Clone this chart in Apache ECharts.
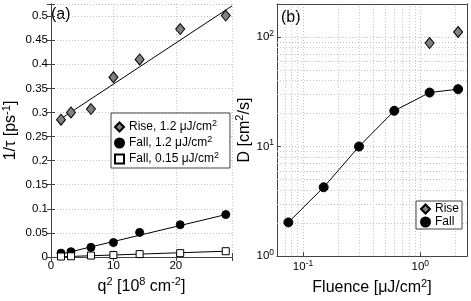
<!DOCTYPE html>
<html><head><meta charset="utf-8">
<script src="https://cdn.jsdelivr.net/npm/echarts@6/dist/echarts.min.js"></script>
<style>html,body{margin:0;padding:0;background:#fff}#c{width:471px;height:301px}</style>
</head><body><div id="c"></div>
<script>
// ---- Panel (a) data ----
const qSquared = [1.6, 3.2, 6.4, 10.0, 14.2, 20.7, 28.0];
const riseA = [0.285, 0.300, 0.307, 0.373, 0.410, 0.473, 0.501];
const fallHighA = [0.008, 0.011, 0.020, 0.030, 0.051, 0.067, 0.088];
const fallLowA = [0.001, 0.0015, 0.003, 0.004, 0.006, 0.008, 0.012];
const riseFitX = [1.6, 29.0];
const riseFitY = [0.287, 0.521];
const fallHighFitX = [1.6, 28.0];
const fallHighFitY = [0.006, 0.088];
const fallLowFitX = [1.6, 28.0];
const fallLowFitY = [0.0005, 0.012];
// ---- Panel (b) data ----
const fluence = [0.075, 0.15, 0.3, 0.6, 1.2, 2.1];
const fallB = [2.03, 4.25, 10.0, 21.2, 31.1, 33.4];
const riseFluence = [1.2, 2.1];
const riseB = [88, 111];
// ---- tick values ----
const logMinorX = [0.07, 0.08, 0.09, 0.2, 0.3, 0.4, 0.5, 0.6, 0.7, 0.8, 0.9, 2];
const logMinorY = [2, 3, 4, 5, 6, 7, 8, 9, 20, 30, 40, 50, 60, 70, 80, 90];

const FONT = 'Liberation Sans';
const INK = '#000';
const AX = '#444';
const GRIDC = '#c4c4c4';
const DOT = [1, 2];
const zip = (a, b) => a.map((v, i) => [v, b[i]]);

const supTick = {fontSize: 8.5, padding: [0, 0, 7, 0], fontFamily: FONT, color: INK};
const supLeg = {fontSize: 9, padding: [0, 0, 7, 0], fontFamily: FONT, color: INK};
const supName = {fontSize: 11, padding: [0, 0, 9, 0], fontFamily: FONT, color: INK};

const tickLabel = (extra) => Object.assign({
  color: INK, fontSize: 11.5, fontFamily: FONT, margin: 3, rich: {sup: supTick}
}, extra);
const nameStyle = {color: INK, fontSize: 16, fontFamily: FONT, rich: {sup: supName}};
const axisLine = {show: true, lineStyle: {color: AX, width: 1}};
const tickIn = {show: true, inside: true, length: 4, lineStyle: {color: AX}};
const split = {show: true, lineStyle: {color: GRIDC, type: DOT, width: 1}};

const isMult = (v, step) => Math.abs(v / step - Math.round(v / step)) < 1e-6;
const isPow10 = v => Math.abs(Math.log10(v) - Math.round(Math.log10(v))) < 1e-6;
const powLabel = v => isPow10(v) ? '10{sup|' + Math.round(Math.log10(v)) + '}' : '';

const chart = echarts.init(document.getElementById('c'), null, {renderer: 'canvas'});
chart.setOption({
  animation: false,
  backgroundColor: '#fff',
  grid: [
    {left: 48, top: 4, width: 184, height: 253, show: false},
    {left: 277, top: 4, width: 190, height: 254, show: false}
  ],
  xAxis: [
    {type: 'value', gridIndex: 0, position: 'bottom', min: 0, max: 29, interval: 10,
     axisLine, axisTick: tickIn, splitLine: split,
     axisLabel: tickLabel({formatter: v => isMult(v, 10) ? String(v) : ''}),
     name: 'q{sup|2} [10{sup|8} cm{sup|-2}]', nameLocation: 'middle', nameGap: 19, nameTextStyle: nameStyle},
    {type: 'value', gridIndex: 0, position: 'top', min: 0, max: 29, interval: 10,
     axisLine, axisTick: tickIn, splitLine: {show: false}, axisLabel: {show: false}},
    {type: 'log', logBase: 10, gridIndex: 1, position: 'bottom', min: 0.06, max: 2.5,
     axisLine, axisTick: tickIn, splitLine: split,
     axisLabel: tickLabel({formatter: powLabel}),
     name: 'Fluence [μJ/cm{sup|2}]', nameLocation: 'middle', nameGap: 19, nameTextStyle: nameStyle},
    {type: 'log', logBase: 10, gridIndex: 1, position: 'top', min: 0.06, max: 2.5,
     axisLine, axisTick: {show: false}, splitLine: {show: false}, axisLabel: {show: false}}
  ],
  yAxis: [
    {type: 'value', gridIndex: 0, position: 'left', min: 0, max: 0.525, interval: 0.05,
     axisLine, axisTick: tickIn, splitLine: split,
     axisLabel: tickLabel({formatter: v => isMult(v, 0.05) ? String(+v.toFixed(2)) : ''}),
     name: '1/τ [ps{sup|-1}]', nameLocation: 'middle', nameRotate: 90, nameGap: 30, nameTextStyle: nameStyle},
    {type: 'value', gridIndex: 0, position: 'right', min: 0, max: 0.525, interval: 0.05,
     axisLine, axisTick: tickIn, splitLine: {show: false}, axisLabel: {show: false}},
    {type: 'log', logBase: 10, gridIndex: 1, position: 'left', min: 1, max: 200,
     axisLine, axisTick: tickIn, splitLine: split,
     axisLabel: tickLabel({formatter: powLabel}),
     name: 'D [cm{sup|2}/s]', nameLocation: 'middle', nameRotate: 90, nameGap: 22, nameTextStyle: nameStyle},
    {type: 'log', logBase: 10, gridIndex: 1, position: 'right', min: 1, max: 200,
     axisLine, axisTick: {show: false}, splitLine: {show: false}, axisLabel: {show: false}}
  ],
  legend: [
    {orient: 'vertical', left: 111, top: 113, selectedMode: false,
     data: [{name: 'Rise, 1.2 μJ/cm²', icon: 'diamond'}, {name: 'Fall, 1.2 μJ/cm²', icon: 'circle'},
            {name: 'Fall, 0.15 μJ/cm²', icon: 'rect'}],
     itemWidth: 9, itemHeight: 9, itemGap: 2, padding: [6, 11, 3, 3],
     backgroundColor: '#fff', borderColor: AX, borderWidth: 1, borderRadius: 0,
     textStyle: {fontSize: 12, fontFamily: FONT, color: INK, rich: {sup: supLeg}},
     formatter: n => n.replace('²', '{sup|2}')},
    {orient: 'vertical', left: 416, top: 201, selectedMode: false,
     data: [{name: 'Rise', icon: 'diamond'}, {name: 'Fall', icon: 'circle'}],
     itemWidth: 9, itemHeight: 9, itemGap: 1, padding: [2, 3, 1, 4],
     backgroundColor: '#fff', borderColor: AX, borderWidth: 1, borderRadius: 0,
     textStyle: {fontSize: 12, fontFamily: FONT, color: INK}}
  ],
  graphic: [
    {type: 'text', left: 51, top: 7, style: {text: '(a)', font: '16px "Liberation Sans"', fill: INK}},
    {type: 'text', left: 281, top: 10, style: {text: '(b)', font: '16px "Liberation Sans"', fill: INK}}
  ],
  series: [
    {type: 'line', name: 'riseFit', xAxisIndex: 0, yAxisIndex: 0, data: zip(riseFitX, riseFitY),
     showSymbol: false, symbol: 'none', lineStyle: {color: INK, width: 1}, silent: true, z: 2},
    {type: 'line', name: 'fallHighFit', xAxisIndex: 0, yAxisIndex: 0, data: zip(fallHighFitX, fallHighFitY),
     showSymbol: false, symbol: 'none', lineStyle: {color: INK, width: 1}, silent: true, z: 2},
    {type: 'line', name: 'fallLowFit', xAxisIndex: 0, yAxisIndex: 0, data: zip(fallLowFitX, fallLowFitY),
     showSymbol: false, symbol: 'none', lineStyle: {color: INK, width: 1}, silent: true, z: 2},
    {type: 'scatter', name: 'Rise, 1.2 μJ/cm²', xAxisIndex: 0, yAxisIndex: 0, data: zip(qSquared, riseA),
     symbol: 'diamond', symbolSize: [9, 11], itemStyle: {color: '#808080', borderColor: INK, borderWidth: 1, opacity: 1}, z: 3},
    {type: 'scatter', name: 'Fall, 1.2 μJ/cm²', xAxisIndex: 0, yAxisIndex: 0, data: zip(qSquared, fallHighA),
     symbol: 'circle', symbolSize: 8, itemStyle: {color: INK, borderColor: INK, borderWidth: 1, opacity: 1}, z: 3},
    {type: 'scatter', name: 'Fall, 0.15 μJ/cm²', xAxisIndex: 0, yAxisIndex: 0, data: zip(qSquared, fallLowA),
     symbol: 'rect', symbolSize: 7, itemStyle: {color: '#fff', borderColor: INK, borderWidth: 1, opacity: 1}, z: 3},
    {type: 'line', name: 'Fall', xAxisIndex: 2, yAxisIndex: 2, data: zip(fluence, fallB),
     symbol: 'circle', symbolSize: 9, showSymbol: true,
     itemStyle: {color: INK, borderColor: INK, borderWidth: 1}, lineStyle: {color: INK, width: 1}, z: 3,
     markLine: {silent: true, symbol: ['none', 'none'], z: 1, animation: false,
       label: {show: false}, emphasis: {disabled: true},
       lineStyle: {color: GRIDC, type: DOT, width: 1},
       data: logMinorX.map(v => ({xAxis: v})).concat(logMinorY.map(v => ({yAxis: v})))}},
    {type: 'scatter', name: 'Rise', xAxisIndex: 2, yAxisIndex: 2, data: zip(riseFluence, riseB),
     symbol: 'diamond', symbolSize: [9, 11], itemStyle: {color: '#808080', borderColor: INK, borderWidth: 1, opacity: 1}, z: 3}
  ]
});
</script></body></html>
